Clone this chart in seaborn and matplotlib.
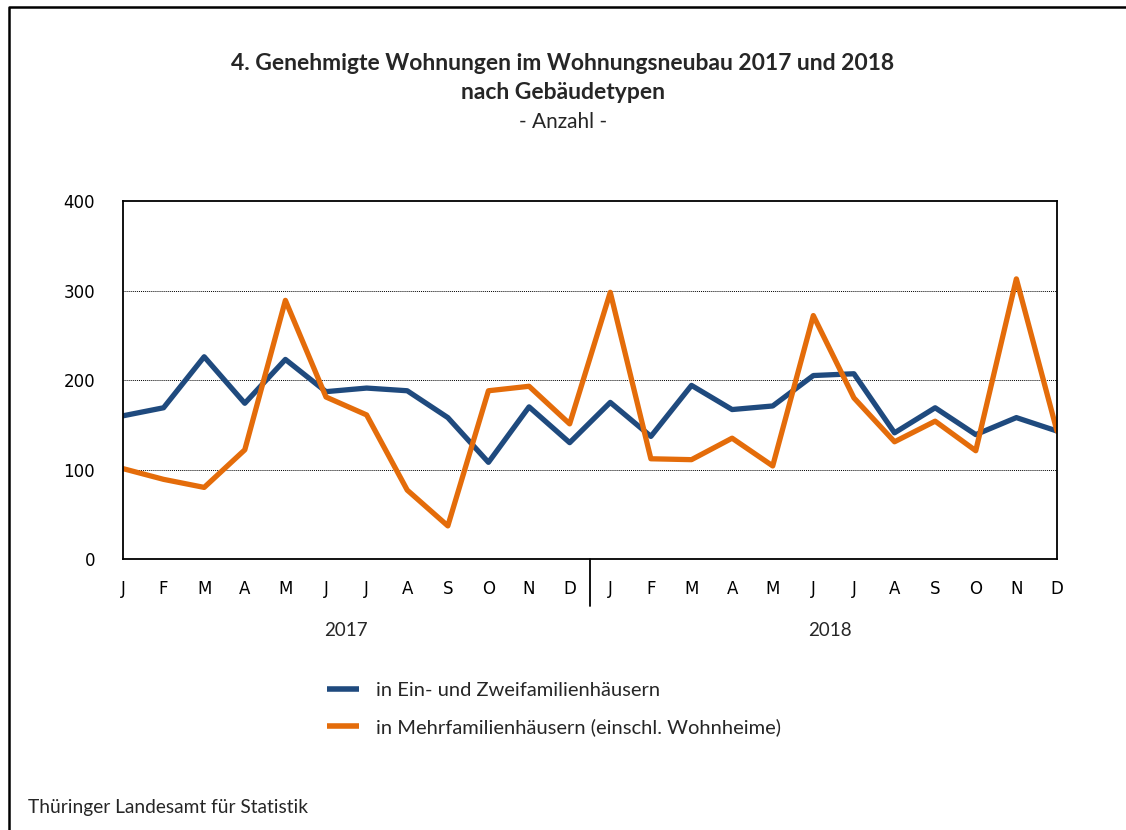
import pandas as pd
import seaborn as sns
import matplotlib.pyplot as plt

months = ["J", "F", "M", "A", "M", "J", "J", "A", "S", "O", "N", "D"] * 2
years = ["2017", "2018"]
ein_zwei = [160, 169, 226, 174, 223, 187, 191, 188, 158, 108, 170, 130,
            175, 137, 194, 167, 171, 205, 207, 141, 169, 139, 158, 143]
mehr = [101, 89, 80, 122, 289, 181, 161, 77, 37, 188, 193, 151,
        298, 112, 111, 135, 104, 272, 180, 131, 154, 121, 313, 143]
series_names = ["in Ein- und Zweifamilienhäusern",
                "in Mehrfamilienhäusern (einschl. Wohnheime)"]
colors = ["#1F4A7E", "#E46C0A"]

df = pd.DataFrame({
    "pos": list(range(24)) * 2,
    "wert": ein_zwei + mehr,
    "reihe": [series_names[0]] * 24 + [series_names[1]] * 24,
})

sns.set_theme(style="white")
plt.rcParams["font.family"] = ["Lato", "DejaVu Sans"]

fig = plt.figure(figsize=(11.26, 8.30), dpi=100)
ax = fig.add_axes([0.1092, 0.3265, 0.8295, 0.4313])

sns.lineplot(data=df, x="pos", y="wert", hue="reihe", palette=colors,
             linewidth=3.8, ax=ax, legend=False)

ax.set_xlim(0, 23)
ax.set_ylim(0, 400)
ax.set_yticks([0, 100, 200, 300, 400])
ax.set_xticks(range(24))
ax.set_xticklabels(months)
ax.tick_params(axis="both", length=0, labelsize=12, colors="black")
ax.tick_params(axis="x", pad=15)
ax.tick_params(axis="y", pad=20)
for lab in ax.get_xticklabels() + ax.get_yticklabels():
    lab.set_family("DejaVu Sans")
ax.set_xlabel("")
ax.set_ylabel("")
for y in [100, 200, 300]:
    ax.axhline(y, color="black", linestyle=(0, (1, 1)), linewidth=0.7, zorder=0)
for s in ax.spines.values():
    s.set_color("black")
    s.set_linewidth(1.3)

# Trennstrich zwischen den Jahren
ax.plot([11.5, 11.5], [0, -0.13], transform=ax.get_xaxis_transform(),
        color="black", linewidth=1.3, clip_on=False)
for xpos, yr in zip([5.5, 17.4], years):
    ax.text(xpos, -0.2, yr, transform=ax.get_xaxis_transform(),
            ha="center", va="center", fontsize=13.5)

fig.text(0.5, 0.924, "4. Genehmigte Wohnungen im Wohnungsneubau 2017 und 2018",
         ha="center", va="center", fontsize=16.5, fontweight="bold")
fig.text(0.5, 0.889, "nach Gebäudetypen", ha="center", va="center",
         fontsize=16.5, fontweight="bold")
fig.text(0.5, 0.853, "- Anzahl -", ha="center", va="center", fontsize=15)

handles = [plt.Line2D([], [], color=c, linewidth=4, solid_capstyle="butt")
           for c in colors]
fig.legend(handles, series_names, loc="upper left",
           bbox_to_anchor=(0.2745, 0.2),
           frameon=False, fontsize=14.5, handlelength=1.6, handletextpad=0.8,
           labelspacing=0.95)

fig.text(0.025, 0.027, "Thüringer Landesamt für Statistik", ha="left",
         va="center", fontsize=13.8)

# Rahmen links und oben
fig.add_artist(plt.Line2D([0.008, 0.008, 1.0], [0.0, 0.9916, 0.9916],
                          transform=fig.transFigure, color="black", linewidth=1.8))

fig.savefig("out.png", dpi=100)
